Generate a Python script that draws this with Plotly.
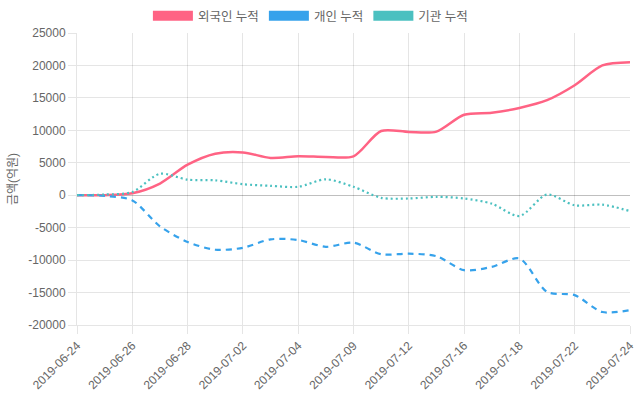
import plotly.graph_objects as go

dates = ["2019-06-24", "2019-06-25", "2019-06-26", "2019-06-27", "2019-06-28",
         "2019-07-01", "2019-07-02", "2019-07-03", "2019-07-04", "2019-07-05",
         "2019-07-09", "2019-07-10", "2019-07-12", "2019-07-15", "2019-07-16",
         "2019-07-17", "2019-07-18", "2019-07-19", "2019-07-22", "2019-07-23",
         "2019-07-24"]
foreign = [0, 0, 300, 1800, 4700, 6400, 6600, 5750, 6000, 5900, 6000, 9900, 9750,
           9800, 12400, 12700, 13450, 14650, 16950, 20000, 20500]
individual = [0, -100, -800, -4800, -7200, -8400, -8100, -6800, -6900, -7950, -7300,
              -9100, -9000, -9400, -11550, -11050, -9750, -14900, -15400, -18000, -17700]
institution = [0, 100, 500, 3300, 2400, 2300, 1700, 1450, 1300, 2450, 1300, -400,
               -500, -250, -500, -1300, -3200, 100, -1550, -1450, -2450]
names = ["외국인 누적", "개인 누적", "기관 누적"]
colors = ["#ff6384", "#36a2eb", "#4bc0c0"]
dashes = ["solid", "6px,5px", "2px,3px"]
widths = [2.5, 2.2, 2.2]
yticks = list(range(-20000, 25001, 5000))

font = "Liberation Sans, Noto Sans CJK KR, sans-serif"
fig = go.Figure()
for name, vals, c, d, w in zip(names, [foreign, individual, institution], colors, dashes, widths):
    fig.add_trace(go.Scatter(x=dates, y=vals, mode="lines", name=name,
                             line=dict(color=c, width=w, dash=d, shape="spline", smoothing=0.8),
                             showlegend=False, hoverinfo="skip"))
    fig.add_trace(go.Scatter(x=[None], y=[None], mode="lines", name=name,
                             line=dict(color=c, width=12), showlegend=True))

fig.update_layout(
    width=640, height=400,
    margin=dict(l=77, r=10, t=33, b=75, autoexpand=False),
    plot_bgcolor="white", paper_bgcolor="white",
    font=dict(family=font, size=12, color="#666"),
    legend=dict(orientation="h", x=0.485, xanchor="center", xref="container",
                y=0.96, yanchor="middle", yref="container",
                itemwidth=40, font=dict(size=12.5, color="#666"), bgcolor="rgba(0,0,0,0)"),
    xaxis=dict(type="category", range=[0, len(dates) - 1], tickvals=dates[::2],
               tickangle=-45, showgrid=True, gridcolor="rgba(0,0,0,0.1)",
               ticks="outside", ticklen=8, tickcolor="rgba(0,0,0,0.1)",
               showline=True, linecolor="rgba(0,0,0,0.1)", zeroline=False,
               automargin=False, tickfont=dict(size=12, color="#666")),
    yaxis=dict(range=[-20000, 25000], tickvals=yticks, ticktext=[str(v) for v in yticks],
               showgrid=True, gridcolor="rgba(0,0,0,0.1)", zeroline=True,
               zerolinecolor="rgba(0,0,0,0.25)", zerolinewidth=1,
               ticks="outside", ticklen=8, tickcolor="rgba(0,0,0,0.1)",
               showline=True, linecolor="rgba(0,0,0,0.1)", automargin=False,
               title=dict(text="금액(억원)", font=dict(size=12, color="#666"), standoff=8),
               tickfont=dict(size=12, color="#666")),
)
fig.write_html("out.html", config={"displayModeBar": False},
               post_script="document.body.style.margin='0';")
